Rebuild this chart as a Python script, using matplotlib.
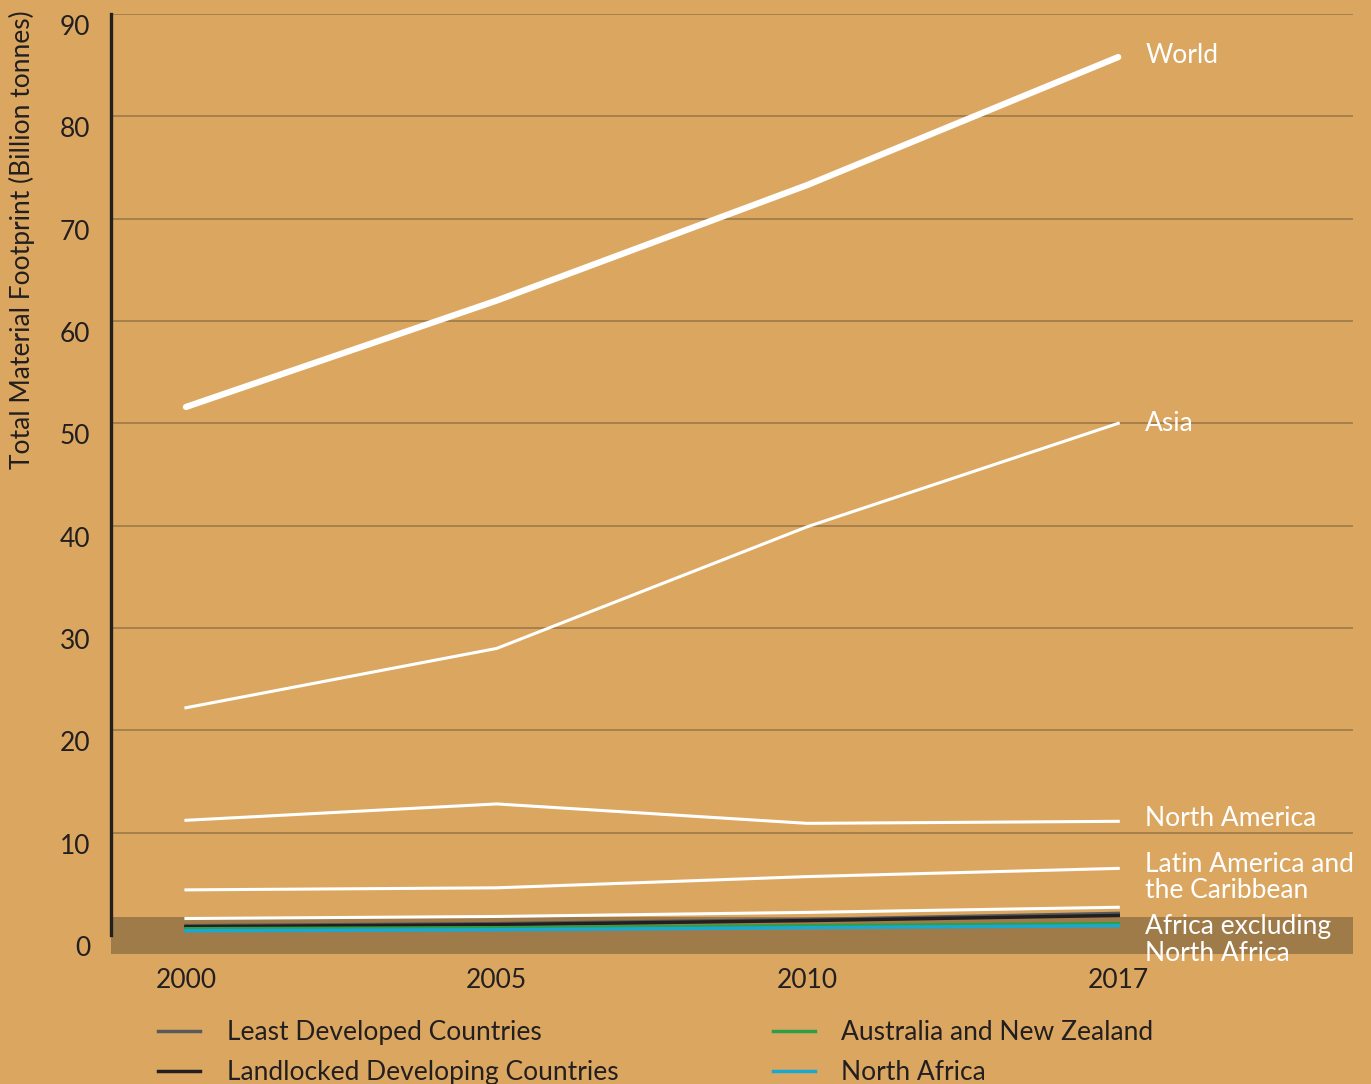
import matplotlib
matplotlib.use("Agg")
import matplotlib.pyplot as plt
import matplotlib.transforms as mtransforms
from matplotlib.lines import Line2D

plt.rcParams["font.family"] = ["Lato", "DejaVu Sans"]

# dades
years = ["2000", "2005", "2010", "2017"]
world = [51.6, 62.0, 73.3, 85.8]
asia = [22.2, 28.0, 39.9, 50.0]
north_america = [11.2, 12.8, 10.9, 11.1]
latin_america = [4.4, 4.6, 5.7, 6.5]
africa_excl_na = [1.6, 1.8, 2.2, 2.7]
least_developed = [0.9, 1.1, 1.5, 2.1]
landlocked = [0.8, 1.0, 1.4, 1.9]
australia_nz = [0.6, 0.7, 0.9, 1.1]
north_africa = [0.4, 0.5, 0.7, 0.9]

yticks = [0, 10, 20, 30, 40, 50, 60, 70, 80, 90]

bg = "#dba760"
band = "#a07b4a"
grid_col = "#9c7a48"
text_col = "#231f20"

fig = plt.figure(figsize=(13.71, 10.84), dpi=100, facecolor=bg)
ax = fig.add_axes([0.081, 0.120, 0.906, 0.867])
ax.set_facecolor(bg)

x = list(range(len(years)))

# franja fosca de sota
ax.axhspan(-1.86, 1.76, color=band, zorder=1, lw=0)

# linies blanques
ax.plot(x, world, color="white", lw=4.5, zorder=5, solid_capstyle="round")
ax.plot(x, asia, color="white", lw=2.2, zorder=5)
ax.plot(x, north_america, color="white", lw=2.2, zorder=5)
ax.plot(x, latin_america, color="white", lw=2.2, zorder=5)
ax.plot(x, africa_excl_na, color="white", lw=2.2, zorder=5)

# linies de colors (llegenda)
ax.plot(x, least_developed, color="#58595b", lw=2.5, zorder=4)
ax.plot(x, landlocked, color="#231f20", lw=2.5, zorder=4)
ax.plot(x, australia_nz, color="#2e9e48", lw=2.5, zorder=4)
ax.plot(x, north_africa, color="#1aa8d0", lw=2.5, zorder=4)

# etiquetes al final de cada linia
lab_x = 3.087
ax.text(lab_x, world[-1] + 0.2, "World", color="white", fontsize=19, va="center")
ax.text(lab_x, asia[-1], "Asia", color="white", fontsize=19, va="center")
ax.text(lab_x, north_america[-1] + 0.3, "North America", color="white", fontsize=19, va="center")
ax.text(lab_x, 5.6, "Latin America and\nthe Caribbean", color="white", fontsize=19,
        va="center", linespacing=1.07)
ax.text(lab_x, -0.5, "Africa excluding\nNorth Africa", color="white", fontsize=19,
        va="center", linespacing=1.07)

ax.set_xlim(-0.241, 3.756)
ax.set_ylim(-1.86, 90)
ax.set_xticks(x)
ax.set_xticklabels(years)
ax.set_yticks(yticks)

for y in yticks[1:]:
    ax.axhline(y, color=grid_col, lw=1.2, zorder=0)

for s in ["top", "right", "bottom"]:
    ax.spines[s].set_visible(False)
ax.spines["left"].set_bounds(0, 90)
ax.spines["left"].set_linewidth(2.4)
ax.spines["left"].set_color(text_col)
ax.spines["left"].set_zorder(6)

ax.tick_params(axis="both", length=0, labelsize=19, colors=text_col)
ax.tick_params(axis="y", pad=15)
ax.tick_params(axis="x", pad=10)

# les etiquetes de l'eix y queden una mica per sota de la linia
offset = mtransforms.ScaledTranslation(0, -11 / 100, fig.dpi_scale_trans)
for lab in ax.get_yticklabels():
    lab.set_transform(lab.get_transform() + offset)

fig.text(22 / 1371, 1 - 10 / 1084, "Total Material Footprint (Billion tonnes)",
         rotation=90, ha="center", va="top", fontsize=19, color=text_col)

handles = [
    Line2D([], [], color="#58595b", lw=2.5),
    Line2D([], [], color="#231f20", lw=2.5),
    Line2D([], [], color="#2e9e48", lw=2.5),
    Line2D([], [], color="#1aa8d0", lw=2.5),
]
labels = ["Least Developed Countries", "Landlocked Developing Countries",
          "Australia and New Zealand", "North Africa"]
fig.legend(handles, labels, loc="upper left", bbox_to_anchor=(0.098, 0.081),
           ncol=2, frameon=False, fontsize=19, handlelength=1.6, handletextpad=1.0,
           columnspacing=5.85, labelspacing=0.58, labelcolor=text_col)

fig.savefig("out.png", dpi=100, facecolor=bg)
